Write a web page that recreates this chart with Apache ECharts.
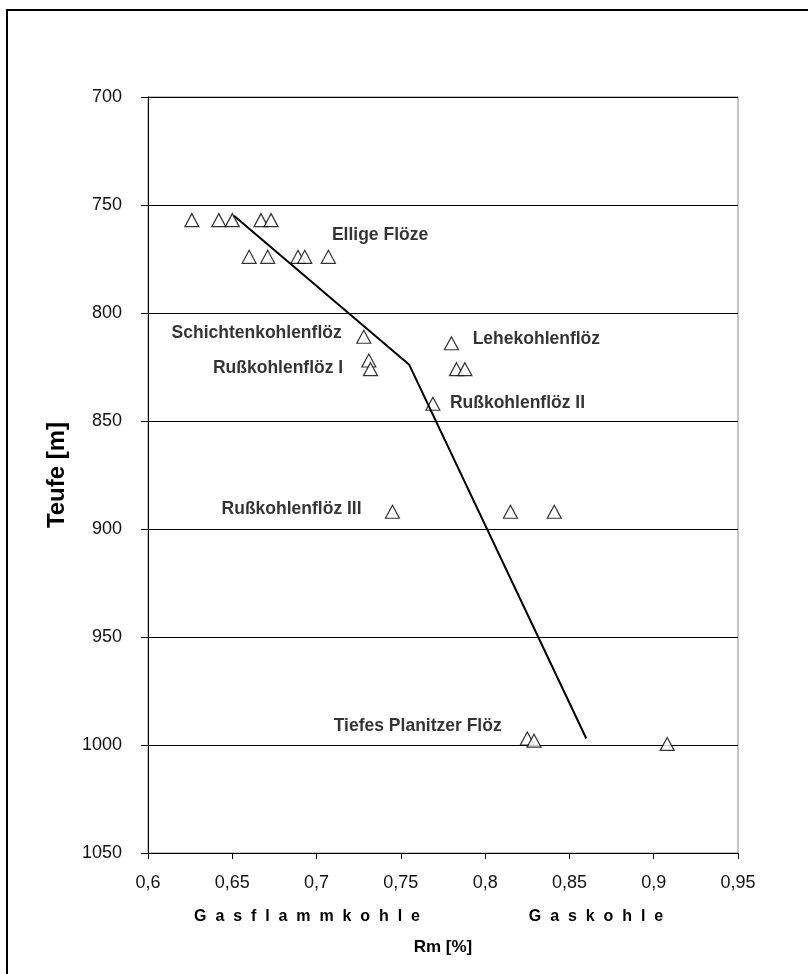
<!DOCTYPE html>
<html>
<head>
<meta charset="utf-8">
<script src="https://cdn.jsdelivr.net/npm/echarts@6/dist/echarts.min.js"></script>
<style>
html,body{margin:0;padding:0;background:#fff;}
#chart{width:808px;height:974px;}
</style>
</head>
<body>
<div id="chart"></div>
<script>
// ---- data ----
var xTickLabels = ['0,6','0,65','0,7','0,75','0,8','0,85','0,9','0,95'];
var yTickLabels = ['700','750','800','850','900','950','1000','1050'];

// measured reflectance Rm [%] vs. depth [m]
var measuredRm = [0.626,0.642,0.650,0.667,0.673,
                  0.660,0.671,0.689,0.693,0.707,
                  0.728,0.731,0.732,
                  0.780,0.783,0.788,
                  0.769,
                  0.745,0.815,0.841,
                  0.825,0.829,0.908];
var measuredDepth = [757,757,757,757,757,
                     774,774,774,774,774,
                     811,822,826,
                     814,826,826,
                     842,
                     892,892,892,
                     997,998,999.5];

// trend line
var trendRm = [0.651,0.755,0.860];
var trendDepth = [755,824,997];

// seam annotations
var seamNames = ['Ellige Flöze','Schichtenkohlenflöz','Rußkohlenflöz I','Lehekohlenflöz','Rußkohlenflöz II','Rußkohlenflöz III','Tiefes Planitzer Flöz'];
var seamRm = [0.7091,0.7149,0.7158,0.7926,0.7791,0.7267,0.8098];
var seamDepth = [764,809.4,825.6,812.2,841.8,890.9,991.2];
var seamAlign = ['left','right','right','left','left','right','right'];

var rankNames = ['Gasflammkohle','Gaskohle'];
var xAxisTitle = 'Rm [%]';
var yAxisTitle = 'Teufe [m]';

// ---- chart ----
function spaced(s){ return s.split('').join('  '); }

var chart = echarts.init(document.getElementById('chart'), null, {renderer:'canvas'});

var measuredData = measuredRm.map(function(v,i){ return [v, measuredDepth[i]]; });
var trendData = trendRm.map(function(v,i){ return [v, trendDepth[i]]; });
var seamData = seamNames.map(function(n,i){
  return {
    name: n,
    value: [seamRm[i], seamDepth[i]],
    label: {align: seamAlign[i]}
  };
});

var labelFont = 'Liberation Sans, Arial, sans-serif';

var option = {
  animation: false,
  backgroundColor: '#fff',
  grid: {
    left: 148, right: 70, top: 97, bottom: 121,
    show: true, borderColor: '#888', borderWidth: 1,
    backgroundColor: 'transparent'
  },
  xAxis: {
    type: 'value', min: 0.6, max: 0.95, interval: 0.05,
    name: xAxisTitle, nameLocation: 'middle', nameGap: 86,
    nameTextStyle: {fontFamily: labelFont, fontWeight: 'bold', fontSize: 17, color: '#000'},
    axisLine: {show: true, onZero: false, lineStyle: {color: '#000', width: 1}},
    axisTick: {show: true, inside: false, length: 6, lineStyle: {color: '#000'}},
    splitLine: {show: false},
    axisLabel: {
      margin: 21, fontFamily: labelFont, fontSize: 18, color: '#111',
      formatter: function(v){ var i = Math.round((v-0.6)/0.05); return xTickLabels[i]; }
    }
  },
  yAxis: {
    type: 'value', inverse: true, min: 700, max: 1050, interval: 50,
    name: yAxisTitle, nameLocation: 'middle', nameGap: 79, nameRotate: 90,
    nameTextStyle: {fontFamily: labelFont, fontWeight: 'bold', fontSize: 24, color: '#000'},
    axisLine: {show: true, onZero: false, lineStyle: {color: '#000', width: 1}},
    axisTick: {show: true, inside: false, length: 7, lineStyle: {color: '#000'}},
    splitLine: {show: true, lineStyle: {color: '#000', width: 1}},
    axisLabel: {
      margin: 26, fontFamily: labelFont, fontSize: 18, color: '#111',
      formatter: function(v){ var i = Math.round((v-700)/50); return yTickLabels[i]; }
    }
  },
  series: [
    {
      name: 'Messwerte', type: 'scatter', data: measuredData,
      symbol: 'triangle', symbolSize: [14, 13], z: 3,
      itemStyle: {color: '#fff', borderColor: '#000', borderWidth: 1.2}
    },
    {
      name: 'Trend', type: 'line', data: trendData, z: 4,
      symbol: 'none', lineStyle: {color: '#000', width: 2}
    },
    {
      name: 'Flöze', type: 'scatter', data: seamData, symbolSize: 0, z: 5,
      label: {
        show: true, position: [0, 0], verticalAlign: 'middle',
        fontFamily: labelFont, fontWeight: 'bold', fontSize: 17.5, color: '#000',
        formatter: function(p){ return p.name; }
      }
    }
  ],
  graphic: [
    {
      type: 'rect', silent: true, z: -10,
      shape: {x: 7, y: 10, width: 900, height: 1000},
      style: {fill: 'transparent', stroke: '#000', lineWidth: 2}
    },
    {
      type: 'text', x: 307, y: 917, silent: true,
      style: {text: spaced(rankNames[0]), x: 0, y: 0, textAlign: 'center', textVerticalAlign: 'middle',
              font: 'bold 16px "Liberation Sans", sans-serif', fill: '#000'}
    },
    {
      type: 'text', x: 596, y: 917, silent: true,
      style: {text: spaced(rankNames[1]), x: 0, y: 0, textAlign: 'center', textVerticalAlign: 'middle',
              font: 'bold 16px "Liberation Sans", sans-serif', fill: '#000'}
    }
  ]
};
chart.setOption(option);
</script>
</body>
</html>
